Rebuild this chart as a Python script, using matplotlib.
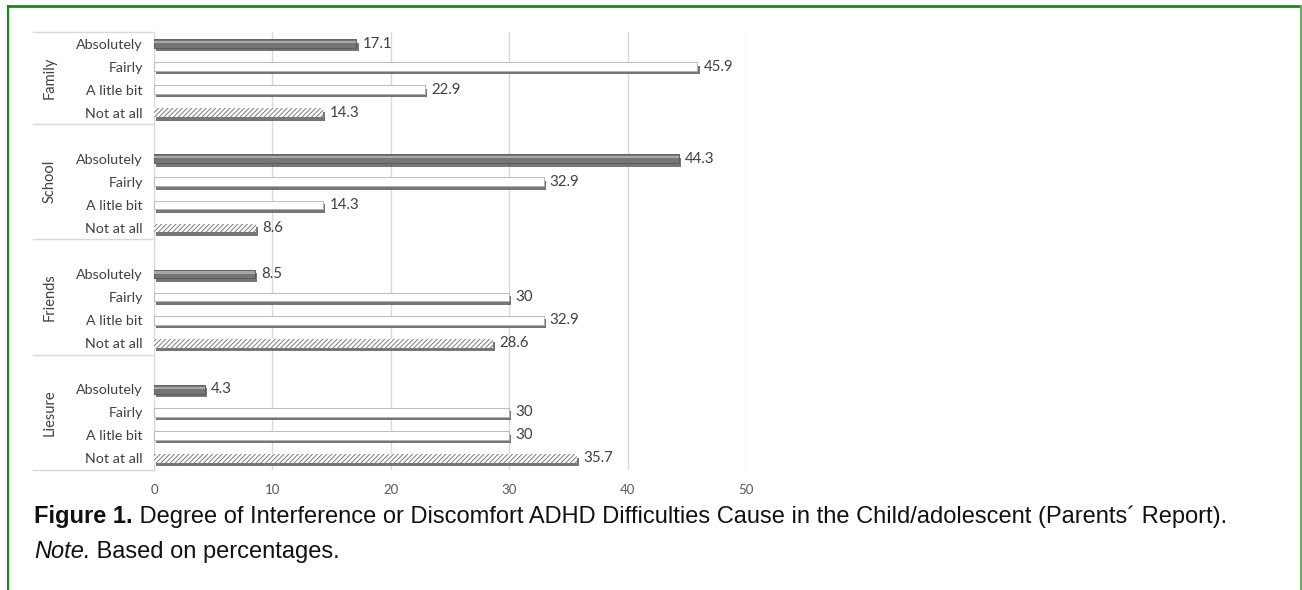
import matplotlib
matplotlib.use("Agg")
import matplotlib.pyplot as plt
import matplotlib.patheffects as pe
from matplotlib.lines import Line2D
from matplotlib.transforms import blended_transform_factory

# data (percentages)
groups = ["Family", "School", "Friends", "Liesure"]
levels = ["Absolutely", "Fairly", "A litle bit", "Not at all"]
family = [17.1, 45.9, 22.9, 14.3]
school = [44.3, 32.9, 14.3, 8.6]
friends = [8.5, 30, 32.9, 28.6]
liesure = [4.3, 30, 30, 35.7]
values = [family, school, friends, liesure]
x_ticks = [0, 10, 20, 30, 40, 50]

caption_bold = "Figure 1."
caption_text = " Degree of Interference or Discomfort ADHD Difficulties Cause in the Child/adolescent (Parents\u00b4 Report)."
note_italic = "Note."
note_text = " Based on percentages."

W, H = 1302, 590
fig = plt.figure(figsize=(W / 100, H / 100), dpi=100)
ax = fig.add_axes([154 / W, 1 - 470 / H, (746 - 154) / W, (470 - 32) / H])

plt.rcParams['hatch.linewidth'] = 0.7
plt.rcParams['hatch.color'] = '#7a7a7a'

shadow = [pe.SimplePatchShadow(offset=(1.5, -2.5), shadow_rgbFace='#5e5e5e', alpha=0.85), pe.Normal()]
styles = [
    dict(color='#767676', edgecolor='#555555', linewidth=0.6),
    dict(color='white', edgecolor='#b0b0b0', linewidth=0.6),
    dict(color='white', edgecolor='#b0b0b0', linewidth=0.6),
    dict(color='white', edgecolor='#7a7a7a', linewidth=0.0, hatch='///////'),
]

ytick_pos = []
ytick_lab = []
for g, grp in enumerate(values):
    for r, v in enumerate(grp):
        y = 5 * g + r + 0.5
        ytick_pos.append(y)
        ytick_lab.append(levels[r])
        b = ax.barh(y, v, height=0.38, zorder=3, **styles[r])
        for p in b:
            p.set_path_effects(shadow)
        if r == 0:
            # lighter top stripe to mimic the cylinder look
            ax.barh(y - 0.07, v, height=0.1, color='#a8a8a8', linewidth=0, zorder=4)
        ax.annotate(f"{v:g}", (v, y), xytext=(4.5, 0), textcoords='offset points',
                    va='center', ha='left', fontsize=10.8, color='#404040', family='Lato')

ax.set_xlim(0, 50)
ax.set_ylim(19, 0)
ax.set_xticks(x_ticks)
ax.set_xticklabels([str(t) for t in x_ticks], fontsize=9.5, color='#595959', family='Lato')
ax.set_yticks(ytick_pos)
ax.set_yticklabels(ytick_lab, fontsize=10.3, color='#404040', family='Lato')
ax.tick_params(axis='both', length=0)
ax.tick_params(axis='y', pad=8)
ax.tick_params(axis='x', pad=10)
ax.grid(axis='x', color='#d9d9d9', linewidth=1, zorder=0)
for s in ['top', 'right', 'bottom']:
    ax.spines[s].set_visible(False)
ax.spines['left'].set_color('#d9d9d9')

# category separators and group labels in the left margin
tr = blended_transform_factory(fig.transFigure, ax.transData)
bounds = [0, 4, 9, 14, 19]
for yb in bounds:
    ax.add_line(Line2D([33 / W, 154 / W], [yb, yb], transform=tr, color='#d9d9d9',
                       linewidth=1, clip_on=False))
for g, name in enumerate(groups):
    yc = (bounds[g] + bounds[g + 1]) / 2
    ax.text(50 / W, yc, name, transform=tr, rotation=90, ha='center', va='center',
            fontsize=10.5, color='#404040', family='Lato')

# green frame
fig.add_artist(Line2D([8 / W, 1301 / W], [1 - 6 / H, 1 - 6 / H], color='#158a15', linewidth=2))
fig.add_artist(Line2D([8 / W, 8 / W], [0, 1 - 6 / H], color='#158a15', linewidth=1.5))
fig.add_artist(Line2D([1301 / W, 1301 / W], [0, 1 - 6 / H], color='#5cb85c', linewidth=1.5))

# caption
renderer = fig.canvas.get_renderer()
cap_size = 17
t1 = fig.text(34 / W, 1 - 523 / H, caption_bold, fontsize=cap_size, fontweight='bold',
              family='Liberation Sans', va='baseline', color='#111111')
bb = t1.get_window_extent(renderer)
fig.text(bb.x1 / W, 1 - 523 / H, caption_text, fontsize=cap_size, family='Liberation Sans',
         va='baseline', color='#111111')
t2 = fig.text(34 / W, 1 - 558 / H, note_italic, fontsize=cap_size, style='italic',
              family='Liberation Sans', va='baseline', color='#111111')
bb2 = t2.get_window_extent(renderer)
fig.text(bb2.x1 / W, 1 - 558 / H, note_text, fontsize=cap_size, family='Liberation Sans',
         va='baseline', color='#111111')

fig.savefig("out.png", dpi=100)
